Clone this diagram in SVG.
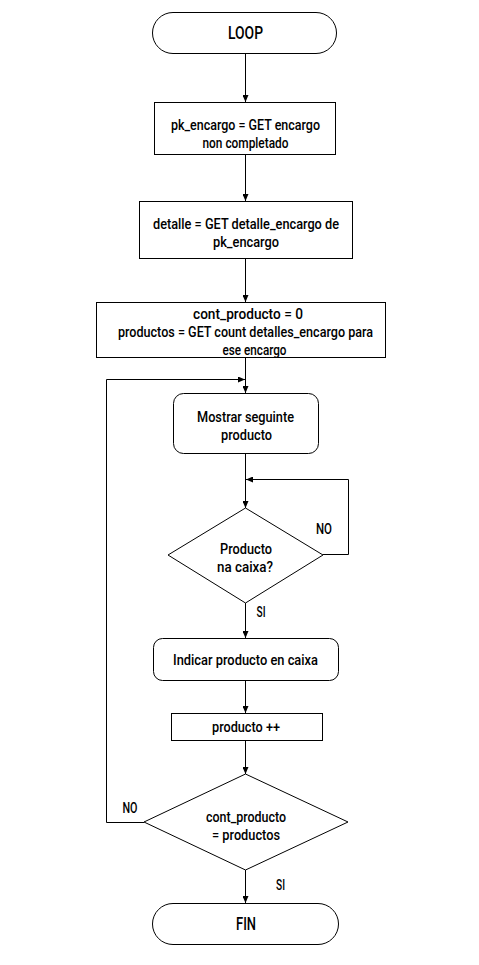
<svg xmlns="http://www.w3.org/2000/svg" width="479" height="965" viewBox="0 0 479 965">
<style>
.s{fill:#fff;stroke:#000;stroke-width:1}
.c{fill:none;stroke:#000;stroke-width:1}
text{font-family:"Roboto","Liberation Sans",sans-serif;font-size:15px;font-weight:500;fill:#000;text-anchor:middle}
.t{font-size:18px}
.l{font-size:14px}
</style>
<defs>
<marker id="a" markerWidth="7" markerHeight="6" refX="7" refY="3" orient="auto" markerUnits="userSpaceOnUse">
<path d="M0,0 L7,3 L0,6 z" fill="#000"/>
</marker>
</defs>
<rect width="479" height="965" fill="#fff"/>
<g id="connectors">
<path class="c" d="M245.5,53.5 V102" marker-end="url(#a)"/>
<path class="c" d="M245.5,154.5 V201" marker-end="url(#a)"/>
<path class="c" d="M245.5,258.5 V302" marker-end="url(#a)"/>
<path class="c" d="M245.5,357.5 V393" marker-end="url(#a)"/>
<path class="c" d="M144,822.5 H106.5 V379.5 H245" marker-end="url(#a)"/>
<path class="c" d="M245.5,453.5 V508" marker-end="url(#a)"/>
<path class="c" d="M323,554.5 H348.5 V479.5 H246" marker-end="url(#a)"/>
<path class="c" d="M245.5,603 V638" marker-end="url(#a)"/>
<path class="c" d="M245.5,680.5 V713" marker-end="url(#a)"/>
<path class="c" d="M245.5,740.5 V774" marker-end="url(#a)"/>
<path class="c" d="M245.5,870 V903" marker-end="url(#a)"/>
<text class="l" x="324" y="534" textLength="16" lengthAdjust="spacingAndGlyphs">NO</text>
<text class="l" x="261" y="617" textLength="9" lengthAdjust="spacingAndGlyphs">SI</text>
<text class="l" x="130" y="813" textLength="15" lengthAdjust="spacingAndGlyphs">NO</text>
<text class="l" x="280.5" y="890" textLength="9" lengthAdjust="spacingAndGlyphs">SI</text>
</g>
<g id="loop">
<rect class="s" x="152.5" y="12.5" width="184" height="41" rx="20.5"/>
<text class="t" x="245.5" y="39" textLength="35" lengthAdjust="spacingAndGlyphs">LOOP</text>
</g>
<g id="get-encargo">
<rect class="s" x="154.5" y="102.5" width="181" height="52"/>
<text x="245.5" y="129.5" textLength="149" lengthAdjust="spacingAndGlyphs">pk_encargo = GET encargo</text>
<text x="245.5" y="147.5" textLength="86" lengthAdjust="spacingAndGlyphs">non completado</text>
</g>
<g id="get-detalle">
<rect class="s" x="139.5" y="201.5" width="213" height="57"/>
<text x="246" y="228.5" textLength="186" lengthAdjust="spacingAndGlyphs">detalle = GET detalle_encargo de</text>
<text x="246" y="246.5" textLength="66" lengthAdjust="spacingAndGlyphs">pk_encargo</text>
</g>
<g id="init">
<rect class="s" x="96.5" y="302.5" width="289" height="55"/>
<text x="248" y="318.5" textLength="110" lengthAdjust="spacingAndGlyphs">cont_producto = 0</text>
<text x="245.5" y="336.5" textLength="255" lengthAdjust="spacingAndGlyphs">productos = GET count detalles_encargo para</text>
<text x="254.5" y="354.5" textLength="64" lengthAdjust="spacingAndGlyphs">ese encargo</text>
</g>
<g id="mostrar">
<rect class="s" x="173.5" y="393.5" width="145" height="60" rx="10"/>
<text x="245.5" y="421.5" textLength="97" lengthAdjust="spacingAndGlyphs">Mostrar seguinte</text>
<text x="246.5" y="439.5" textLength="51" lengthAdjust="spacingAndGlyphs">producto</text>
</g>
<g id="caixa">
<polygon class="s" points="245.5,508 323,555 245.5,603 168,555"/>
<text x="246" y="553.5" textLength="52" lengthAdjust="spacingAndGlyphs">Producto</text>
<text x="245" y="571.5" textLength="56" lengthAdjust="spacingAndGlyphs">na caixa?</text>
</g>
<g id="indicar">
<rect class="s" x="153.5" y="638.5" width="185" height="42" rx="9"/>
<text x="245.5" y="665" textLength="145" lengthAdjust="spacingAndGlyphs">Indicar producto en caixa</text>
</g>
<g id="incremento">
<rect class="s" x="171.5" y="713.5" width="151" height="27"/>
<text x="246" y="732" textLength="68" lengthAdjust="spacingAndGlyphs">producto ++</text>
</g>
<g id="comparar">
<polygon class="s" points="245.5,774 348,822 245.5,870 144,822"/>
<text x="246" y="821.5" textLength="80" lengthAdjust="spacingAndGlyphs">cont_producto</text>
<text x="246" y="839.5" textLength="68" lengthAdjust="spacingAndGlyphs">= productos</text>
</g>
<g id="fin">
<rect class="s" x="152.5" y="903.5" width="186" height="41" rx="20.5"/>
<text class="t" x="246" y="930" textLength="20" lengthAdjust="spacingAndGlyphs">FIN</text>
</g>
</svg>
